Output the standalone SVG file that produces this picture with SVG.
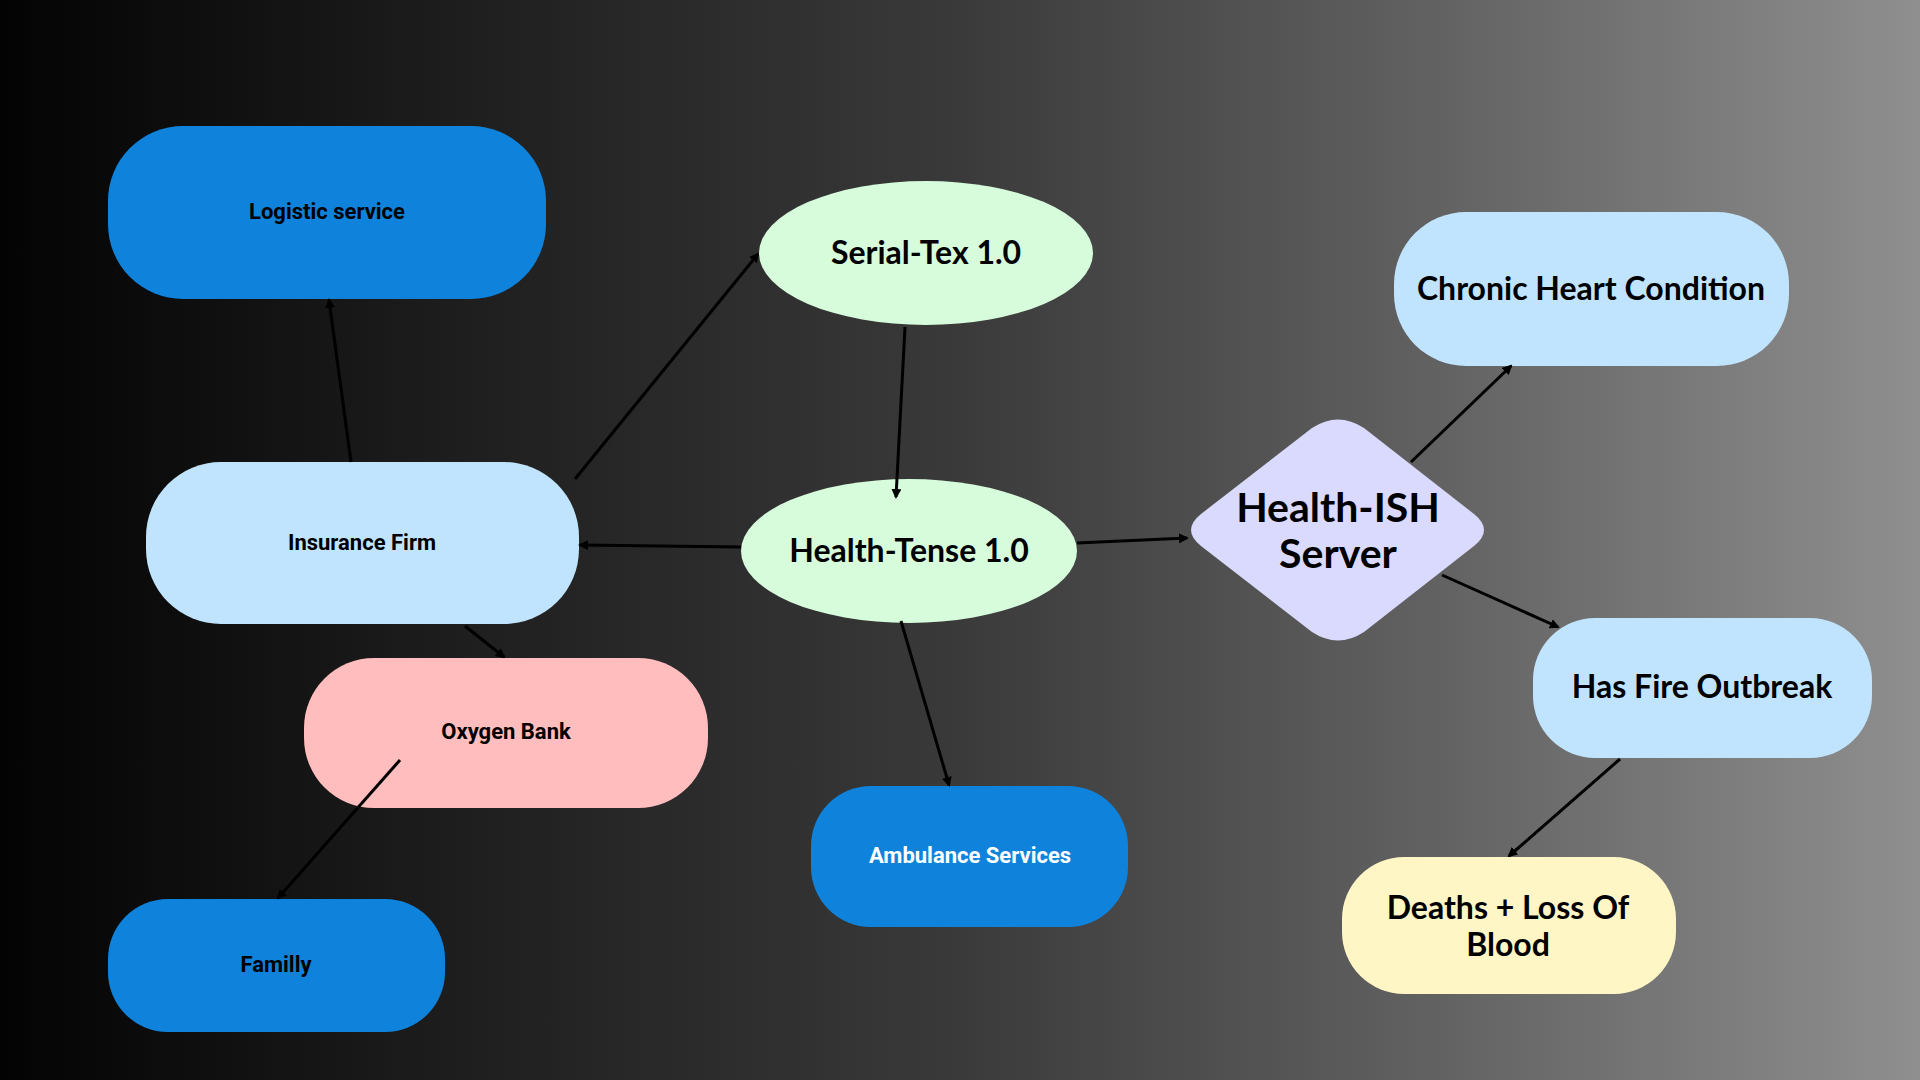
<svg xmlns="http://www.w3.org/2000/svg" width="1920" height="1080" viewBox="0 0 1920 1080">
<defs>
<linearGradient id="bg" x1="0" y1="0" x2="1" y2="0">
<stop offset="0" stop-color="#030303"/>
<stop offset="0.25" stop-color="#1f1f1f"/>
<stop offset="0.5" stop-color="#3a3a3a"/>
<stop offset="0.75" stop-color="#626262"/>
<stop offset="1" stop-color="#8f8f8f"/>
</linearGradient>
<marker id="ah" markerWidth="10" markerHeight="10" refX="8" refY="5" orient="auto" markerUnits="userSpaceOnUse">
<path d="M0,0 L10,5 L0,10 Z" fill="#000"/>
</marker>
</defs>
<style>
.blue{fill:#0f83db}
.lblue{fill:#c0e4fe}
.pink{fill:#ffbdbd}
.green{fill:#d6fcdc}
.lav{fill:#d9dafe}
.yel{fill:#fff5c5}
.sm{font-family:Roboto,"Noto Sans",sans-serif;font-weight:700;font-size:22px;fill:#000;text-anchor:middle}
.lg{font-family:Lato,"Noto Sans",sans-serif;font-weight:700;font-size:32px;fill:#000;text-anchor:middle}
.conn line{stroke:#000;stroke-width:3;marker-end:url(#ah)}
</style>
<rect x="0" y="0" width="1920" height="1080" fill="url(#bg)"/>

<g id="logistic"><rect class="blue" x="108" y="126" width="438" height="173" rx="75" ry="75"/><text class="sm" x="327" y="219">Logistic service</text></g>
<g id="insurance"><rect class="lblue" x="146" y="462" width="433" height="162" rx="75" ry="75"/><text class="sm" x="362" y="550">Insurance Firm</text></g>
<g id="oxygen"><rect class="pink" x="304" y="658" width="404" height="150" rx="70" ry="70"/><text class="sm" x="506" y="739">Oxygen Bank</text></g>
<g id="familly"><rect class="blue" x="108" y="899" width="337" height="133" rx="60" ry="60"/><text class="sm" x="276" y="972">Familly</text></g>
<g id="ambulance"><rect class="blue" x="811" y="786" width="317" height="141" rx="60" ry="60"/><text class="sm" x="970" y="863" style="fill:#fff">Ambulance Services</text></g>
<g id="serialtex"><ellipse class="green" cx="926" cy="253" rx="167" ry="72"/><text class="lg" x="926" y="264">Serial-Tex 1.0</text></g>
<g id="healthtense"><ellipse class="green" cx="909" cy="551" rx="168" ry="72"/><text class="lg" x="909" y="562">Health-Tense 1.0</text></g>
<g id="server"><path class="lav" d="M1312,428 Q1338,411 1364,428 L1474,514 Q1494,530 1474,546 L1364,632 Q1338,649 1312,632 L1201,546 Q1181,530 1201,514 Z"/><text class="lg" style="font-size:41px" x="1338" y="522">Health-ISH</text><text class="lg" style="font-size:41px" x="1338" y="568">Server</text></g>
<g id="chronic"><rect class="lblue" x="1394" y="212" width="395" height="154" rx="72" ry="72"/><text class="lg" x="1591" y="300">Chronic Heart Condition</text></g>
<g id="fire"><rect class="lblue" x="1533" y="618" width="339" height="140" rx="62" ry="62"/><text class="lg" x="1702" y="698">Has Fire Outbreak</text></g>
<g id="deaths"><rect class="yel" x="1342" y="857" width="334" height="137" rx="62" ry="62"/><text class="lg" x="1508" y="919">Deaths + Loss Of</text><text class="lg" x="1508" y="956">Blood</text></g>

<g id="connectors" class="conn">
<line x1="351" y1="462" x2="329" y2="300"/>
<line x1="575" y1="479" x2="758" y2="254"/>
<line x1="741" y1="547" x2="580" y2="545"/>
<line x1="465" y1="626" x2="504" y2="657"/>
<line x1="400" y1="760" x2="278" y2="898"/>
<line x1="905" y1="327" x2="896" y2="497"/>
<line x1="901" y1="621" x2="949" y2="785"/>
<line x1="1077" y1="543" x2="1187" y2="538"/>
<line x1="1411" y1="462" x2="1511" y2="366"/>
<line x1="1442" y1="575" x2="1558" y2="627"/>
<line x1="1620" y1="759" x2="1509" y2="856"/>
</g>
</svg>
